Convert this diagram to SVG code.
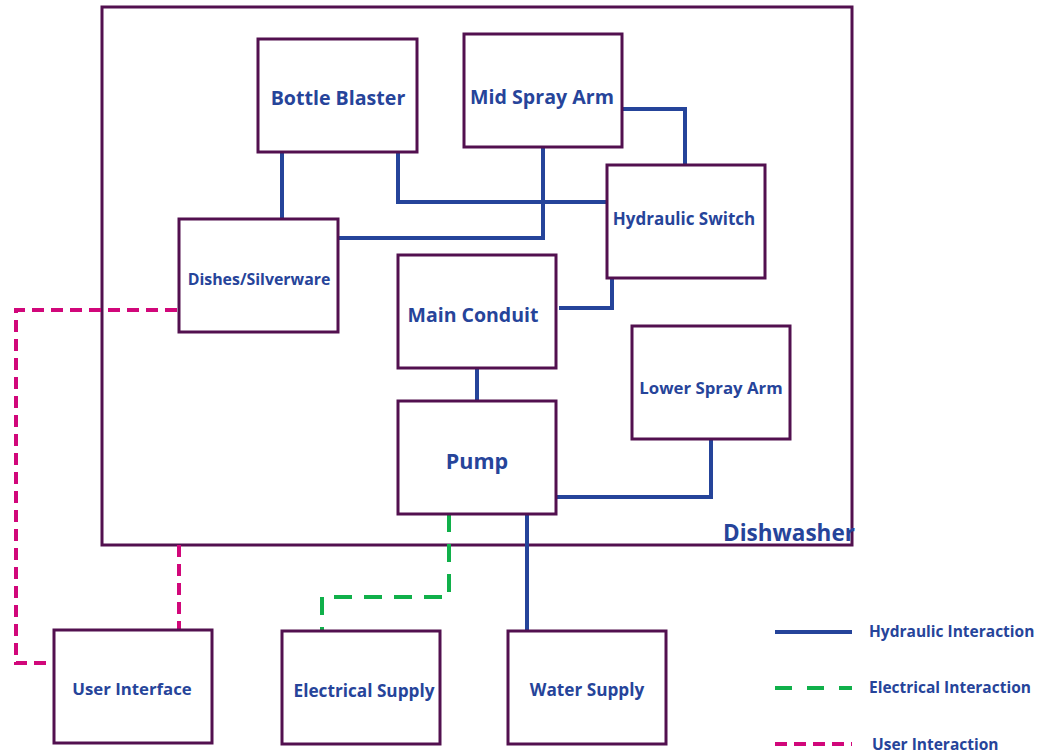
<svg xmlns="http://www.w3.org/2000/svg" width="1047" height="755" viewBox="0 0 1047 755">
<style>
.box{fill:#fff;stroke:#52104f;stroke-width:3}
.frame{fill:none;stroke:#52104f;stroke-width:3}
.lbl{font-family:"Open Sans",Lato,"Liberation Sans",sans-serif;font-weight:bold;fill:#26449a;text-anchor:middle}
.leg{font-family:"Open Sans",Lato,"Liberation Sans",sans-serif;font-weight:bold;fill:#26449a;font-size:15.5px}
.hyd{fill:none;stroke:#25449a;stroke-width:4}
.ele{fill:none;stroke:#10b04a;stroke-width:4;stroke-dasharray:18 12}
.usr{fill:none;stroke:#d1077a;stroke-width:4;stroke-dasharray:12 7}
</style>
<rect width="1047" height="755" fill="#fff"/>
<g id="dishwasher">
<rect class="frame" x="102" y="7" width="750" height="538"/>
<text class="lbl" x="789" y="541" font-size="22.5">Dishwasher</text>
</g>
<g id="connectors">
<path class="hyd" d="M282 152V219"/>
<path class="hyd" d="M398 152V202H606"/>
<path class="hyd" d="M543 147V238H338"/>
<path class="hyd" d="M622 109H685V165"/>
<path class="hyd" d="M559 308H612V278"/>
<path class="hyd" d="M477 368V401"/>
<path class="hyd" d="M556 497H711V439"/>
<path class="hyd" d="M527 514V631"/>
<path class="ele" d="M449 514V597H322V631"/>
<path class="usr" d="M177 310H16V663H54"/>
<path class="usr" d="M179 545V630"/>
</g>
<g id="bottle-blaster"><rect class="box" x="258" y="39" width="159" height="113"/><text class="lbl" x="338" y="105" font-size="19.6">Bottle Blaster</text></g>
<g id="mid-spray-arm"><rect class="box" x="464" y="34" width="158" height="113"/><text class="lbl" x="542" y="104" font-size="19.6">Mid Spray Arm</text></g>
<g id="hydraulic-switch"><rect class="box" x="607" y="165" width="158" height="113"/><text class="lbl" x="684" y="225" font-size="17">Hydraulic Switch</text></g>
<g id="dishes-silverware"><rect class="box" x="179" y="219" width="159" height="113"/><text class="lbl" x="259" y="285" font-size="15.9">Dishes/Silverware</text></g>
<g id="main-conduit"><rect class="box" x="398" y="255" width="158" height="113"/><text class="lbl" x="473" y="322" font-size="19.5">Main Conduit</text></g>
<g id="lower-spray-arm"><rect class="box" x="632" y="326" width="158" height="113"/><text class="lbl" x="711" y="394" font-size="16.8">Lower Spray Arm</text></g>
<g id="pump"><rect class="box" x="398" y="401" width="158" height="113"/><text class="lbl" x="477" y="469" font-size="21.5">Pump</text></g>
<g id="user-interface"><rect class="box" x="54" y="630" width="158" height="113"/><text class="lbl" x="132" y="695" font-size="16.8">User Interface</text></g>
<g id="electrical-supply"><rect class="box" x="282" y="631" width="158" height="113"/><text class="lbl" x="364" y="697" font-size="17.2">Electrical Supply</text></g>
<g id="water-supply"><rect class="box" x="508" y="631" width="158" height="113"/><text class="lbl" x="587" y="696" font-size="17.2">Water Supply</text></g>
<g id="legend">
<path class="hyd" d="M775 632H852"/>
<path class="ele" d="M775 688H852" style="stroke-dasharray:17 15"/>
<path class="usr" d="M775 744H852"/>
<text class="leg" x="869" y="637">Hydraulic Interaction</text>
<text class="leg" x="869" y="693">Electrical Interaction</text>
<text class="leg" x="872" y="750">User Interaction</text>
</g>
</svg>
